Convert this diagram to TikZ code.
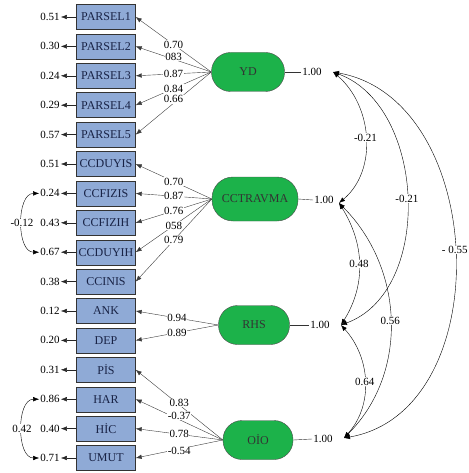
\documentclass[tikz,border=0pt]{standalone}
\usepackage{fontspec}
\setmainfont{Liberation Serif}
\usepackage{tikz}
\usetikzlibrary{arrows.meta}
\definecolor{boxblue}{RGB}{143,170,214}
\definecolor{boxtext}{RGB}{25,35,70}
\definecolor{latgreen}{RGB}{28,178,74}
\definecolor{linegray}{RGB}{60,60,60}
\tikzset{
  obs/.style={draw=black!80, fill=boxblue, minimum width=59pt, minimum height=25pt, inner sep=0pt, text=boxtext, font=\fontsize{12}{12}\selectfont},
  lat/.style={draw=black!70, fill=latgreen, rounded corners=19pt, minimum height=39pt, inner sep=0pt, font=\fontsize{12}{12}\selectfont, text=black!80},
  num/.style={font=\fontsize{11}{11}\selectfont, inner sep=1pt, text=black},
  lab/.style={num, fill=white, inner sep=0.5pt},
  tip/.style={-{Latex[length=6pt,width=4.5pt]}},
  both/.style={{Latex[length=6pt,width=4.5pt]}-{Latex[length=6pt,width=4.5pt]}},
}

\begin{document}
\begin{tikzpicture}[x=1pt,y=1pt]
\useasboundingbox (0,0) rectangle (468,-473);

%Observed variables with error variances
\foreach \n/\t/\e [count=\i from 0] in {pA/PARSEL1/0.51, pB/PARSEL2/0.30, pC/PARSEL3/0.24, pD/PARSEL4/0.29, pE/PARSEL5/0.57,
    cA/CCDUYIS/0.51, cB/CCFIZIS/0.24, cC/CCFIZIH/0.43, cD/CCDUYIH/0.67, cE/CCINIS/0.38,
    rA/ANK/0.12, rB/DEP/0.20, oA/PİS/0.31, oB/HAR/0.86, oC/HİC/0.40, oD/UMUT/0.71}
{
  \node[obs] (\n) at (106, -17-29.4*\i) {\t};
  \node[num] (e\n) at (50, -17-29.4*\i) {\e};
  \draw[tip, black!85] (\n.west) -- (e\n.east);
}

%Latent variables
\node[lat, minimum width=73pt] (yd) at (248,-72) {YD};
\node[lat, minimum width=86pt, minimum height=44pt, rounded corners=21pt] (cct) at (255,-199) {CCTRAVMA};
\node[lat, minimum width=71pt] (rhs) at (254,-325) {RHS};
\node[lat, minimum width=70pt] (oio) at (258,-440) {OİO};

%Latent variances
\node[num] (vyd) at (312,-72) {1.00};
\node[num] (vcct) at (324,-200) {1.00};
\node[num] (vrhs) at (320,-325) {1.00};
\node[num] (voio) at (323,-439) {1.00};
\draw[black!80] (yd.east) -- (vyd.west);
\draw[black!80] (cct.east) -- (vcct.west);
\draw[black!80] (rhs.east) -- (vrhs.west);
\draw[black!80] (oio.east) -- (voio.west);
\coordinate (cyd) at (333,-72);
\coordinate (ccct) at (339,-203);
\coordinate (crhs) at (341,-325);
\coordinate (coio) at (344,-438);

%Loadings
\draw[tip, linegray, thin] (yd.west) -- (pA.east) node[lab, midway] {0.70};
\draw[tip, linegray, thin] (yd.west) -- (pB.east) node[lab, midway, yshift=2pt] {083};
\draw[tip, linegray, thin] (yd.west) -- (pC.east) node[lab, midway] {0.87};
\draw[tip, linegray, thin] (yd.west) -- (pD.east) node[lab, midway] {0.84};
\draw[tip, linegray, thin] (yd.west) -- (pE.east) node[lab, midway, yshift=4pt] {0.66};

\draw[tip, linegray, thin] (cct.west) -- (cA.east) node[lab, midway] {0.70};
\draw[tip, linegray, thin] (cct.west) -- (cB.east) node[lab, midway] {0.87};
\draw[tip, linegray, thin] (cct.west) -- (cC.east) node[lab, midway] {0.76};
\draw[tip, linegray, thin] (cct.west) -- (cD.east) node[lab, midway] {058};
\draw[tip, linegray, thin] (cct.west) -- (cE.east) node[lab, midway] {0.79};

\draw[tip, linegray, thin] (rhs.west) -- (rA.east) node[lab, midway] {0.94};
\draw[tip, linegray, thin] (rhs.west) -- (rB.east) node[lab, midway] {0.89};

\draw[tip, linegray, thin] (oio.west) -- (oA.east) node[lab, midway, yshift=2pt] {0.83};
\draw[tip, linegray, thin] (oio.west) -- (oB.east) node[lab, midway, yshift=4pt] {-0.37};
\draw[tip, linegray, thin] (oio.west) -- (oC.east) node[lab, midway] {0.78};
\draw[tip, linegray, thin] (oio.west) -- (oD.east) node[lab, midway, yshift=-2pt] {-0.54};

%Latent covariances
\draw[both, thin] (cyd) to[out=-40, in=40] node[lab] {-0.21} (ccct);
\draw[both, thin] (cyd) to[out=-20, in=20] node[lab] {-0.21} (crhs);
\draw[both, thin] (cyd) to[out=-10, in=10, looseness=1.1] node[lab, pos=0.49] {- 0.55} (coio);
\draw[both, thin] (ccct) to[out=-58, in=58] node[lab] {0.48} (crhs);
\draw[both, thin] (ccct) to[out=-45, in=45] node[lab, pos=0.5] {0.56} (coio);
\draw[both, thin] (crhs) to[out=-48, in=48] node[lab] {0.64} (coio);

%Error covariances
\draw[both, thin] (ecB.west) to[out=180, in=180] node[lab] {-0.12} (ecD.west);
\draw[both, thin] (eoB.west) to[out=180, in=180] node[lab] {0.42} (eoD.west);

\end{tikzpicture}
\end{document}
